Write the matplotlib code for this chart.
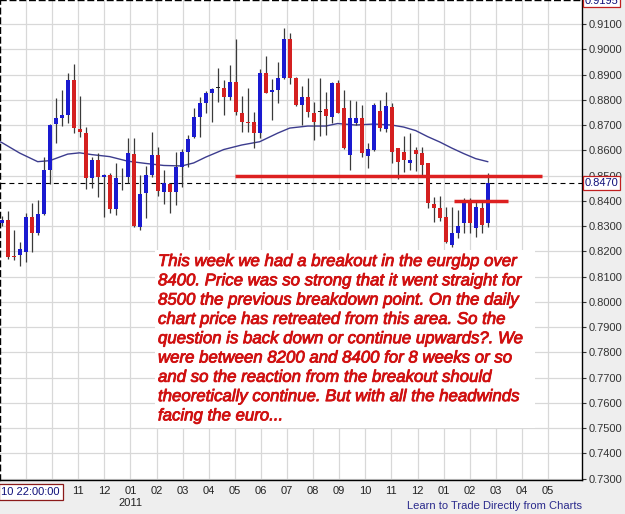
import numpy as np
import matplotlib
matplotlib.use("Agg")
import matplotlib.pyplot as plt
import matplotlib.patheffects as pe
from matplotlib.patches import Rectangle
from matplotlib.transforms import blended_transform_factory

plt.rcParams['font.family'] = ['Liberation Sans', 'DejaVu Sans']

# weekly EUR/GBP candles
opens = [0.8311, 0.8324, 0.8181, 0.8185, 0.8198, 0.8337, 0.8274, 0.8348, 0.8522, 0.8704,
         0.8727, 0.8740, 0.8878, 0.8684, 0.8670, 0.8489, 0.8561, 0.8495, 0.8502, 0.8366,
         0.8491, 0.8495, 0.8585, 0.8297, 0.8430, 0.8502, 0.8581, 0.8436, 0.8468, 0.8435,
         0.8535, 0.8594, 0.8654, 0.8733, 0.8786, 0.8828, 0.8849, 0.8848, 0.8810, 0.8869,
         0.8749, 0.8713, 0.8713, 0.8667, 0.8907, 0.8832, 0.8839, 0.8885, 0.9041, 0.8885,
         0.8779, 0.8810, 0.8749, 0.8753, 0.8762, 0.8733, 0.8865, 0.8766, 0.8581, 0.8707,
         0.8727, 0.8577, 0.8601, 0.8757, 0.8683, 0.8772, 0.8608, 0.8594, 0.8548, 0.8603,
         0.8588, 0.8550, 0.8387, 0.8370, 0.8334, 0.8225, 0.8271, 0.8313, 0.8403, 0.8291,
         0.8370, 0.8313]
highs = [0.8340, 0.8361, 0.8284, 0.8238, 0.8350, 0.8390, 0.8403, 0.8575, 0.8704, 0.8806,
         0.8839, 0.8905, 0.8942, 0.8815, 0.8691, 0.8575, 0.8590, 0.8506, 0.8509, 0.8548,
         0.8529, 0.8647, 0.8650, 0.8502, 0.8538, 0.8672, 0.8614, 0.8522, 0.8469, 0.8594,
         0.8604, 0.8660, 0.8766, 0.8810, 0.8836, 0.8845, 0.8925, 0.8878, 0.8938, 0.9039,
         0.8815, 0.8845, 0.8753, 0.8921, 0.8973, 0.8881, 0.8951, 0.9083, 0.9066, 0.8889,
         0.8854, 0.8885, 0.8792, 0.8885, 0.8832, 0.8871, 0.8878, 0.8839, 0.8799, 0.8796,
         0.8779, 0.8629, 0.8786, 0.8799, 0.8832, 0.8786, 0.8608, 0.8656, 0.8668, 0.8615,
         0.8615, 0.8551, 0.8417, 0.8421, 0.8375, 0.8377, 0.8363, 0.8410, 0.8410, 0.8403,
         0.8396, 0.8509]
lows = [0.8300, 0.8168, 0.8165, 0.8142, 0.8159, 0.8198, 0.8264, 0.8344, 0.8466, 0.8628,
        0.8696, 0.8707, 0.8667, 0.8651, 0.8445, 0.8449, 0.8416, 0.8335, 0.8350, 0.8344,
        0.8443, 0.8469, 0.8297, 0.8284, 0.8331, 0.8495, 0.8419, 0.8387, 0.8350, 0.8383,
        0.8456, 0.8535, 0.8647, 0.8654, 0.8749, 0.8713, 0.8792, 0.8740, 0.8799, 0.8740,
        0.8672, 0.8674, 0.8608, 0.8647, 0.8825, 0.8720, 0.8786, 0.8881, 0.8862, 0.8777,
        0.8700, 0.8733, 0.8641, 0.8656, 0.8660, 0.8707, 0.8748, 0.8606, 0.8522, 0.8700,
        0.8575, 0.8529, 0.8598, 0.8676, 0.8671, 0.8548, 0.8486, 0.8514, 0.8522, 0.8520,
        0.8502, 0.8370, 0.8316, 0.8322, 0.8233, 0.8218, 0.8251, 0.8274, 0.8271, 0.8258,
        0.8271, 0.8297]
closes = [0.8324, 0.8176, 0.8177, 0.8208, 0.8337, 0.8274, 0.8348, 0.8522, 0.8700, 0.8727,
          0.8740, 0.8878, 0.8687, 0.8671, 0.8489, 0.8561, 0.8495, 0.8504, 0.8367, 0.8491,
          0.8489, 0.8588, 0.8300, 0.8426, 0.8502, 0.8581, 0.8439, 0.8469, 0.8433, 0.8535,
          0.8594, 0.8643, 0.8733, 0.8786, 0.8825, 0.8841, 0.8847, 0.8812, 0.8869, 0.8753,
          0.8713, 0.8707, 0.8667, 0.8907, 0.8828, 0.8839, 0.8885, 0.9041, 0.8885, 0.8779,
          0.8810, 0.8753, 0.8713, 0.8752, 0.8736, 0.8865, 0.8749, 0.8608, 0.8727, 0.8727,
          0.8590, 0.8604, 0.8779, 0.8687, 0.8775, 0.8594, 0.8553, 0.8561, 0.8561, 0.8585,
          0.8542, 0.8390, 0.8370, 0.8331, 0.8238, 0.8271, 0.8300, 0.8403, 0.8313, 0.8377,
          0.8304, 0.8470]

# moving average, sampled along the drawn line
ma_idx = [-0.3, 0, 3, 6, 8, 11, 13, 15, 18, 21, 24, 27, 30, 32, 34, 37, 40, 43, 46, 48,
          51, 54, 56, 59, 62, 65, 67, 69, 71, 73, 75, 77, 79, 81]
ma_val = [0.8634, 0.8631, 0.8589, 0.8555, 0.8559, 0.8585, 0.8590, 0.8583, 0.8575, 0.8557,
          0.8548, 0.8540, 0.8538, 0.8550, 0.8573, 0.8603, 0.8621, 0.8634, 0.8668, 0.8688,
          0.8696, 0.8696, 0.8706, 0.8700, 0.8704, 0.8700, 0.8692, 0.8678, 0.8654, 0.8633,
          0.8609, 0.8587, 0.8567, 0.8555]

month_labels = ['', '', '11', '12', '01', '02', '03', '04', '05', '06', '07', '08', '09',
                '10', '11', '12', '01', '02', '03', '04', '05']
price_ticks = np.round(np.arange(0.73, 0.9101, 0.01), 2)

last_price = 0.8470
top_price = 0.9195
resist_level = 0.8500   # long red line
support_level = 0.8400  # short red line

note_lines = [
    "This week we had a breakout in the eurgbp over",
    "8400. Price was so strong that it went straight for",
    "8500 the previous breakdown point. On the daily",
    "chart price has retreated from this area. So the",
    "question is back down or continue upwards?. We",
    "were between 8200 and 8400 for 8 weeks or so",
    "and so the reaction from the breakout should",
    "theoretically continue. But with all the headwinds",
    "facing the euro...",
]

W, H = 625, 514
fig = plt.figure(figsize=(W / 100, H / 100), dpi=100, facecolor='#eeeeee')
ax = fig.add_axes([0, 34 / H, 582 / W, 480 / H])
ax.set_facecolor('white')

x = np.arange(len(opens))
o = np.array(opens); c = np.array(closes)
hi = np.array(highs); lo = np.array(lows)

# wicks
ax.vlines(x, lo, hi, color='#3a3a3a', lw=0.9, zorder=3)

# bodies
cols = []
for oo, cc in zip(o, c):
    if abs(cc - oo) <= 0.0004:
        cols.append('#222222')
    elif cc > oo:
        cols.append('#1a1ad0')
    else:
        cols.append('#d42020')
bottoms = np.minimum(o, c)
heights = np.maximum(np.abs(c - o), 0.00025)
ax.bar(x, heights, bottom=bottoms, width=0.62, color=cols, lw=0, zorder=4)

# moving average
ax.plot(ma_idx, ma_val, color='#3c3c8e', lw=1.0, zorder=2.5)

# red lines
ax.plot([38.9, 90.0], [resist_level, resist_level], color='#dd2020', lw=2.5,
        solid_capstyle='butt', zorder=5)
ax.plot([75.4, 84.3], [support_level, support_level], color='#dd2020', lw=2.5,
        solid_capstyle='butt', zorder=5)

# last price dashed line
ax.axhline(last_price, color='black', lw=0.8, dashes=(4.5, 3.5), zorder=2.6)

# axes
xmin = -1.7 / 6
xmax = (582 - 1.7) / 6
ax.set_xlim(xmin, xmax)
ax.set_ylim(0.73 - 1.3 * 0.000396, top_price)

grid_x = 4.05 + 4.35 * np.arange(len(month_labels))
ax.set_xticks(grid_x)
ax.set_xticklabels(month_labels)
ax.set_yticks(price_ticks)
ax.set_yticklabels(['%.4f' % v for v in price_ticks])
ax.yaxis.tick_right()
ax.tick_params(axis='y', length=3, width=0.8, pad=1.5, labelsize=8,
               labelcolor='#333333', color='#333333')
ax.tick_params(axis='x', length=0, pad=4.5, labelsize=8, labelcolor='#222222')
ax.grid(True, color='#d8d8d8', lw=0.9)
ax.set_axisbelow(True)

for side in ['right', 'bottom']:
    ax.spines[side].set_color('black')
    ax.spines[side].set_linewidth(1.0)
for side in ['left', 'top']:
    ax.spines[side].set_color('black')
    ax.spines[side].set_linewidth(1.0)
    ax.spines[side].set_linestyle((0, (4, 3)))

# white note panel
ax.add_patch(Rectangle((155 / 582, (480 - 428) / 480), (535 - 155) / 582, (428 - 250) / 480,
                       transform=ax.transAxes, fc='white', ec='none', zorder=1.5))
heavy = [pe.withStroke(linewidth=0.6, foreground='#d01010')]
for k, line in enumerate(note_lines):
    fig.text(158 / W, 1 - (266 + 19.3 * k) / H, line, color='#d01010', fontsize=12.1,
             style='italic', va='baseline', ha='left', path_effects=heavy)

# price boxes on the right axis
btr = blended_transform_factory(ax.transAxes, ax.transData)
ax.text(1.004, last_price, '%.4f' % last_price, transform=btr, va='center', ha='left',
        fontsize=8, color='#10107a', clip_on=False, zorder=10,
        bbox=dict(boxstyle='square,pad=0.15', fc='white', ec='#c02020', lw=0.9))
ax.text(1.004, top_price - 0.0003, '%.4f' % top_price, transform=btr, va='center', ha='left',
        fontsize=8, color='#10107a', clip_on=False, zorder=10,
        bbox=dict(boxstyle='square,pad=0.15', fc='white', ec='#c02020', lw=0.9))

# crosshair date box, year label, footer
fig.text(1.5 / W, 1 - 492 / H, '10 22:00:00', fontsize=8, color='#10107a', va='center',
         ha='left', bbox=dict(boxstyle='square,pad=0.25', fc='white', ec='#8b1a1a', lw=0.9))
btx = blended_transform_factory(ax.transData, ax.transAxes)
ax.text(grid_x[4], -(503 - 480) / 480, '2011', transform=btx, fontsize=8, color='#222222',
        ha='center', va='center', clip_on=False)
fig.text(582 / W, 1 - 506 / H, 'Learn to Trade Directly from Charts', fontsize=8,
         color='#2a2a8c', ha='right', va='center')

fig.savefig('out.png', dpi=100, facecolor=fig.get_facecolor())
